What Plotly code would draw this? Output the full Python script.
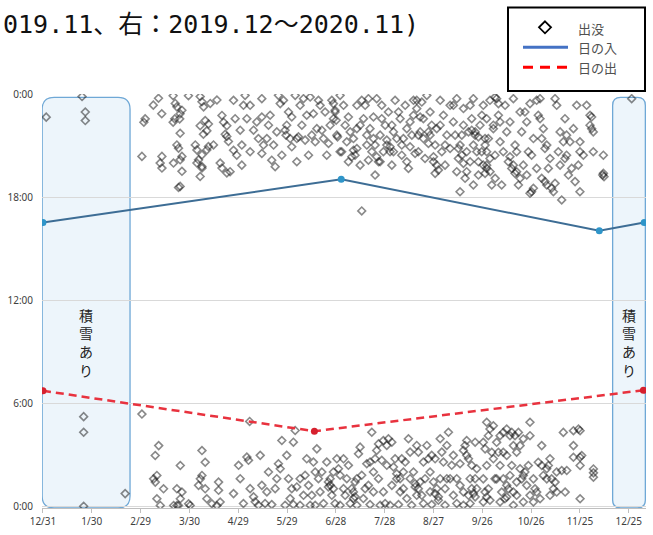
import plotly.graph_objects as go

# ---------------- data ----------------
tick_days = [0, 30, 60, 90, 120, 150, 180, 210, 240, 270, 300, 330, 360]
tick_labels = ["12/31", "1/30", "2/29", "3/30", "4/29", "5/29", "6/28",
               "7/28", "8/27", "9/26", "10/26", "11/25", "12/25"]
hour_ticks = [0, 6, 12, 18, 24]
hour_labels = ["0:00", "6:00", "12:00", "18:00", "0:00"]

# sunset (日の入) and sunrise (日の出): day index from 12/31, time in hours
sunset_day = [0, 183.3, 341.9, 369.5]
sunset_hour = [16.55, 19.07, 16.07, 16.55]
sunrise_day = [0, 166.8, 369.0]
sunrise_hour = [6.74, 4.38, 6.77]

# snow-cover periods (積雪あり)
snow_start = [-0.5, 350.1]
snow_end = [53.5, 370.2]
snow_top = 23.85
snow_bottom = -0.1
snow_radius_px = [12, 8]
snow_label = "積<br>雪<br>あ<br>り"
snow_label_hour = 9.55

# legend entries
legend_names = ["出没", "日の入", "日の出"]

# observations (出没): (day, hour)
evening_obs = [
    (2, 22.7), (24, 23.9), (26, 23.0), (26, 22.5),
    (71, 23.8), (67.8, 23.4), (80, 23.95), (81.3, 23.5), (82.3, 23.3), (85.4, 23.1),
    (84.3, 22.9), (84, 22.6), (81, 22.6), (80, 22.4), (73, 22.9), (62.8, 22.6),
    (62, 22.4), (84.3, 21.76), (89.4, 23.95), (96.6, 23.9), (97.7, 23.6), (98.7, 23.3),
    (102.8, 23.5), (106.9, 23.7), (110, 22.8), (111, 22.4), (113, 22.2), (112, 21.7),
    (96.6, 22.2), (99.7, 22.5), (101.7, 22.3), (100.7, 21.9), (98.6, 21.7), (93.6, 21.08),
    (94.6, 20.79), (97.7, 20.5), (95.6, 20.21), (94.6, 20.02), (97.7, 19.82), (96.6, 19.24),
    (97.7, 19.73), (100.7, 20.79), (101.7, 20.99), (104.8, 21.08), (82.3, 21.08),
    (83.3, 20.89), (85.4, 20.41), (84.3, 20.21), (84.3, 18.66), (83.3, 18.6), (73.1, 20.41),
    (72, 20.02), (73.1, 19.73), (60.8, 20.41), (108.9, 20.02), (110, 19.73), (113, 19.44),
    (80.2, 20.02), (85.4, 19.54), (113, 21.57), (114, 21.28),
    (117.1, 23.68), (118.1, 22.61), (117.1, 20.77), (119.1, 20.48), (121.2, 21.94),
    (122.2, 21.07), (123.2, 23.39), (124.2, 23.97), (122.2, 19.9), (115.0, 19.52),
    (125.3, 22.61), (129.4, 21.94), (134.5, 23.78), (134.5, 22.71), (135.5, 21.07),
    (134.5, 20.58), (137.6, 21.45), (140.6, 20.19), (141.7, 21.07), (144.7, 23.97),
    (145.8, 23.49), (142.7, 19.81), (147.8, 23.68), (149.8, 22.23), (150.9, 23.0),
    (152.9, 20.97), (155.0, 23.97), (156.0, 21.45), (158.0, 23.39), (159.1, 22.23),
    (162.1, 22.81), (163.2, 20.48), (164.2, 23.87), (166.2, 22.9), (167.3, 21.26),
    (169.3, 23.68), (171.4, 21.94), (172.4, 21.45), (174.4, 20.48), (175.5, 21.16),
    (177.5, 23.68), (178.5, 22.61), (179.5, 23.1), (180.6, 21.65), (182.6, 23.97),
    (183.6, 20.68), (184.7, 23.39), (185.7, 22.23), (186.7, 21.26), (189.8, 20.39),
    (190.8, 21.45), (192.9, 20.87), (194.9, 19.9), (195.9, 23.68), (197.0, 22.61),
    (198.0, 23.39), (199.0, 21.07), (201.0, 22.03), (202.1, 20.68), (203.1, 22.71),
    (204.1, 19.32), (205.1, 23.78), (207.2, 21.65), (206.2, 20.1), (210.3, 22.23),
    (211.3, 21.07), (212.3, 23.0), (213.3, 20.68), (214.4, 19.9), (216.4, 23.68),
    (217.4, 21.45), (219.5, 22.61), (220.5, 20.48), (222.6, 23.39), (223.6, 22.03),
    (224.6, 19.71), (225.6, 20.97), (227.7, 22.81), (229.7, 23.68), (230.7, 20.68),
    (231.8, 21.84), (233.8, 22.61), (235.9, 23.97), (236.9, 21.16), (237.9, 23.0),
    (240.0, 20.1), (241.0, 19.42), (242.0, 22.03), (244.1, 23.68), (245.1, 20.68),
    (246.1, 22.81), (248.2, 21.65), (252.2, 22.42), (254.3, 23.78), (255.3, 20.29),
    (256.3, 21.07), (258.4, 23.2), (260.4, 19.52), (261.5, 21.84), (263.5, 22.61),
    (264.5, 23.78), (265.6, 21.65), (266.6, 20.68), (267.6, 20.1), (268.6, 22.23),
    (264.5, 18.74), (256.3, 18.35), (195.9, 17.23),
    (148.8, 21.94), (149.4, 21.65), (157.0, 21.55), (161.1, 21.36), (178.5, 23.49),
    (179.5, 23.0), (180.2, 22.52), (181.0, 21.55), (190.8, 20.77), (191.8, 20.48),
    (203.1, 21.45), (204.1, 21.07), (205.1, 20.39), (207.2, 20.1), (211.3, 21.36),
    (213.3, 20.97), (215.4, 20.68), (227.7, 23.68), (229.7, 23.2), (230.7, 21.65),
    (233.8, 21.45), (236.9, 21.84), (240.0, 20.39), (242.0, 19.9), (243.0, 19.61),
    (255.3, 20.87), (257.4, 20.48), (258.4, 20.0), (260.4, 20.68), (263.5, 21.94),
    (265.6, 21.84), (267.6, 21.55),
    (127.3, 23.39), (131.4, 22.42), (139.6, 22.81), (143.7, 21.84), (152.9, 22.71),
    (160.1, 23.78), (168.3, 22.03), (173.4, 23.0), (187.7, 22.71), (192.9, 22.03),
    (200.0, 23.78), (208.2, 23.39), (214.4, 22.23), (221.5, 21.45), (225.6, 22.42),
    (232.8, 23.58), (238.9, 22.23), (247.1, 21.07), (250.2, 23.39), (253.3, 21.65),
    (258.4, 22.23), (262.5, 23.39), (269.7, 22.81), (272.7, 20.68), (274.8, 19.52),
    (192.9, 23.39), (194.9, 22.23), (199.0, 21.65), (200.0, 20.19), (208.2, 22.61),
    (209.2, 20.68), (215.4, 21.84), (218.5, 23.0), (220.5, 21.07), (223.6, 20.1),
    (226.7, 21.65), (228.7, 20.58), (231.8, 22.71), (234.8, 20.29), (237.9, 21.65),
    (241.0, 21.07), (244.1, 22.23), (247.1, 19.9), (250.2, 20.87), (252.2, 23.39),
    (254.3, 19.52), (257.4, 21.65), (259.4, 19.13), (262.5, 20.1), (264.5, 21.07),
    (267.6, 19.32), (271.7, 21.45), (272.7, 19.9), (276.8, 22.23), (277.9, 19.13),
    (127.3, 20.68), (132.4, 21.45), (138.6, 22.23), (146.8, 20.48), (151.9, 21.45),
    (156.0, 20.1), (165.2, 21.65), (170.3, 23.39), (176.5, 22.23), (182.6, 20.68),
    (187.7, 20.1), (188.8, 21.84),
    (270.6, 23.39), (272.7, 22.61), (271.7, 21.07), (270.6, 19.9), (272.7, 19.71),
    (274.7, 23.68), (276.8, 22.03), (277.8, 20.48), (279.9, 22.81), (278.8, 23.78),
    (280.9, 21.26), (281.9, 18.74), (284.0, 23.39), (285.0, 21.84), (286.0, 20.1),
    (287.0, 22.42), (288.1, 19.71), (289.1, 23.78), (290.1, 21.07), (291.1, 20.68),
    (292.2, 18.74), (293.2, 23.0), (294.2, 21.84), (295.2, 19.9), (297.3, 22.42),
    (298.3, 20.68), (299.3, 23.49), (300.3, 20.48), (300.3, 18.35), (301.4, 21.45),
    (303.4, 23.68), (304.4, 22.81), (305.5, 23.78), (306.5, 21.45), (307.5, 22.03),
    (308.5, 20.87), (309.6, 18.74), (310.6, 19.71), (311.6, 20.29), (313.7, 18.35),
    (314.7, 23.78), (315.7, 23.39), (316.7, 20.68), (317.8, 19.9), (318.8, 17.87),
    (319.8, 21.26), (320.8, 20.29), (321.8, 20.48), (322.9, 19.32), (323.9, 21.26),
    (328.0, 23.39), (329.0, 19.9), (330.0, 21.26), (330.0, 18.35), (334.1, 23.39),
    (336.2, 22.81), (336.2, 22.23), (337.2, 22.03), (338.2, 20.68), (344.4, 20.48),
    (344.4, 19.42), (344.8, 19.23), (361.8, 23.78),
    (269.6, 20.68), (273.7, 21.45), (274.7, 20.29), (271.7, 19.42), (277.8, 23.87),
    (279.9, 23.49), (287.0, 20.39), (289.1, 19.9), (290.1, 19.42), (293.2, 19.13),
    (301.4, 18.55), (299.3, 18.26), (308.5, 18.94), (312.6, 18.55), (314.7, 18.84),
    (337.2, 22.71), (338.2, 21.84), (344.0, 19.32), (280.9, 22.42), (296.2, 23.0),
    (305.5, 22.61), (321.8, 21.65), (324.9, 19.71), (330.0, 20.68),
    (275.8, 18.74), (282.9, 20.68), (291.1, 19.52), (297.3, 19.32), (303.4, 19.71),
    (306.5, 19.13), (309.6, 21.07), (317.8, 21.84), (320.8, 22.61), (326.0, 22.03),
    (327.0, 18.94), (332.1, 20.48),
]

morning_obs = [
    (25, 5.23), (25, 4.32), (50.5, 0.74), (25, 0.0), (60.8, 5.38), (127.0, 4.95),
    (71.1, 3.54), (69.0, 2.96), (70.0, 1.8), (68.0, 1.6), (69.0, 1.41), (74.1, 1.02),
    (70.0, 0.44), (72.1, 0.05), (80.3, 0.05), (82.3, 0.05), (83.3, 0.05), (84.4, 0.44),
    (82.3, 1.02), (85.4, 0.83), (84.4, 2.38), (89.5, 0.15), (90.5, 0.05), (97.7, 3.25),
    (99.7, 2.57), (97.7, 1.8), (96.7, 1.6), (95.6, 1.22), (99.7, 1.02), (100.7, 0.44),
    (103.8, 0.15), (107.9, 1.41), (107.9, 0.93), (108.9, 0.25), (106.9, 0.05),
    (117.1, 0.74), (125.3, 2.87), (126.3, 2.68), (129.4, 0.55), (130.4, 0.26),
    (134.5, 1.22), (136.5, 0.16), (138.6, 2.0), (144.7, 2.48), (145.8, 2.19),
    (146.8, 3.84), (150.9, 1.61), (151.9, 0.45), (153.9, 3.74), (155.0, 4.42),
    (156.0, 1.13), (158.0, 0.06), (161.1, 1.81), (162.1, 2.77), (163.2, 1.22),
    (164.2, 0.06), (166.2, 2.58), (168.3, 3.35), (169.3, 1.61), (170.3, 0.84),
    (174.4, 2.58), (175.4, 1.42), (176.5, 1.22), (177.5, 0.64), (179.5, 0.16),
    (180.6, 2.77), (181.6, 2.19), (182.6, 1.81), (184.7, 2.77), (185.7, 0.64),
    (186.7, 1.61), (189.8, 1.03), (190.8, 0.45), (191.8, 1.42), (193.9, 3.06),
    (194.9, 3.45), (196.9, 0.45), (199.0, 2.48), (200.0, 1.22), (202.1, 4.32),
    (203.1, 2.0), (204.1, 2.77), (205.1, 3.26), (206.2, 3.64), (208.2, 2.68),
    (209.2, 3.84), (211.3, 3.55), (212.3, 3.94), (214.4, 3.74), (216.4, 2.77),
    (217.4, 1.61), (219.5, 0.84), (221.5, 2.0), (222.6, 2.58), (223.6, 0.45),
    (224.6, 3.94), (225.6, 3.16), (227.7, 2.0), (228.7, 1.13), (229.7, 3.55),
    (230.7, 3.16), (231.8, 1.42), (232.8, 0.64), (235.9, 3.55), (236.9, 2.77),
    (237.9, 2.0), (240.0, 1.42), (241.0, 2.77), (242.0, 1.03), (243.0, 0.55),
    (244.1, 3.94), (245.1, 3.16), (246.1, 2.58), (248.2, 3.55), (249.2, 4.32),
    (250.2, 1.61), (252.2, 0.64), (256.3, 2.48), (258.4, 3.26), (260.4, 3.84),
    (261.5, 2.77), (262.5, 1.61), (263.5, 1.03), (264.5, 0.74), (265.6, 3.74),
    (266.6, 2.19),
    (123.2, 0.16), (132.4, 0.06), (140.6, 0.1), (148.8, 0.06), (153.9, 0.1),
    (167.3, 0.06), (172.4, 0.16), (182.6, 0.06), (188.8, 0.16), (192.9, 0.06),
    (201.0, 0.1), (207.2, 0.06), (210.3, 0.16), (213.3, 0.06), (218.5, 0.1),
    (226.6, 0.06), (233.8, 0.16), (238.9, 0.1), (247.1, 0.06), (254.3, 0.16),
    (258.4, 0.06), (262.5, 0.16),
    (175.4, 1.13), (176.5, 1.61), (190.8, 0.84), (191.8, 0.55), (215.4, 2.29),
    (217.4, 1.9), (219.5, 1.61), (228.7, 1.32), (230.7, 1.03), (241.0, 0.74),
    (243.0, 0.35), (259.4, 3.55), (260.4, 2.97), (265.6, 1.61), (266.6, 1.03),
    (265.6, 0.55), (120.2, 2.39), (133.5, 2.97), (142.7, 1.03), (149.8, 2.97),
    (160.1, 0.64), (167.3, 2.0), (178.5, 2.0), (184.7, 1.03), (195.9, 1.81),
    (203.1, 0.84), (211.3, 2.39), (221.5, 1.03), (233.8, 2.58), (237.9, 0.84),
    (248.2, 1.61), (252.2, 2.97), (256.3, 1.22), (261.5, 0.64),
    (121.2, 1.61), (127.3, 1.03), (137.6, 0.84), (143.7, 1.61), (152.9, 1.03),
    (158.0, 1.61), (165.2, 0.64), (171.4, 2.0), (178.5, 1.03), (187.7, 2.39),
    (192.9, 1.61), (198.0, 1.03), (201.0, 2.58), (206.2, 1.61), (209.2, 0.84),
    (214.4, 1.22), (220.5, 2.77), (225.6, 1.61), (229.7, 0.64), (234.8, 1.61),
    (238.9, 2.97), (244.1, 1.61), (247.1, 1.03), (251.2, 2.39), (254.3, 1.61),
    (258.4, 0.84), (263.5, 2.39),
    (272.7, 4.9), (274.7, 4.51), (273.7, 4.12), (276.8, 4.7), (278.8, 3.73),
    (280.9, 4.12), (282.9, 4.31), (285.0, 4.51), (287.0, 4.12), (288.1, 4.31),
    (282.9, 3.15), (285.0, 2.96), (289.1, 3.54), (291.1, 3.15), (293.2, 3.54),
    (295.2, 3.93), (299.3, 4.9), (299.3, 4.12), (270.6, 3.73), (271.7, 3.35),
    (272.7, 2.38), (276.8, 2.77), (280.9, 2.38), (282.9, 1.6), (285.0, 1.22),
    (287.0, 1.8), (289.1, 0.83), (291.1, 1.41), (293.2, 2.19), (295.2, 1.8),
    (297.3, 1.22), (299.3, 0.64), (301.4, 1.6), (303.4, 0.83), (305.5, 0.44),
    (307.5, 1.8), (309.6, 2.19), (311.6, 2.77), (312.6, 1.6), (313.7, 1.02),
    (315.7, 2.0), (270.6, 1.6), (271.7, 0.83), (270.6, 0.25), (274.7, 0.35),
    (280.9, 0.25), (283.9, 0.44), (289.1, 0.06), (295.2, 0.25), (301.4, 0.25),
    (311.6, 0.64), (315.7, 0.83),
    (273.7, 1.02), (272.7, 0.54), (286.0, 1.02), (285.0, 0.54), (294.2, 1.6),
    (296.2, 2.0), (310.6, 2.38), (309.6, 1.6), (277.8, 1.6), (279.9, 3.15),
    (292.2, 4.31), (304.4, 2.57), (306.5, 3.54),
    (278.8, 1.6), (281.9, 0.83), (288.1, 2.38), (291.1, 0.64), (298.3, 2.38),
    (302.4, 1.02), (306.5, 2.38), (314.7, 1.41), (275.8, 3.15), (290.1, 4.12),
    (319.8, 4.31), (326.0, 4.41), (329.1, 4.51), (330.1, 4.41), (326.0, 3.54),
    (326.0, 2.86), (330.1, 2.86), (331.1, 2.96), (330.1, 2.38), (321.9, 2.09),
    (318.8, 2.09), (338.3, 2.18), (338.3, 1.7), (338.3, 1.95), (320.9, 0.83),
    (330.1, 0.44),
]

title_text = "019.11、右：2019.12〜2020.11)"

# ---------------- layout constants ----------------
W, H = 653, 535
ML, MR, MT, MB = 42, 7, 94, 25
X_RANGE = [-0.6, 370.6]
Y_RANGE = [-0.1, 24.05]
plot_w = W - ML - MR
plot_h = H - MT - MB
px_per_day = plot_w / (X_RANGE[1] - X_RANGE[0])
px_per_hour = plot_h / (Y_RANGE[1] - Y_RANGE[0])


def paper_x(px):
    return (px - ML) / plot_w


def paper_y(py):
    return 1 + (MT - py) / plot_h


obs = evening_obs + morning_obs
obs_day = [d for d, h in obs]
obs_hour = [h for d, h in obs]

fig = go.Figure()

# observation scatter
fig.add_trace(go.Scatter(
    x=obs_day, y=obs_hour, mode="markers", showlegend=False, name=legend_names[0],
    marker=dict(symbol="diamond-open", size=6, color="rgba(20,20,20,0.5)",
                line=dict(width=1.6)),
    hoverinfo="skip"))

# sunset line
fig.add_trace(go.Scatter(
    x=sunset_day, y=sunset_hour, mode="lines+markers", showlegend=False,
    name=legend_names[1],
    line=dict(color="#3D6D95", width=2),
    marker=dict(size=7, color="#2F95C9")))

# sunrise line
fig.add_trace(go.Scatter(
    x=sunrise_day, y=sunrise_hour, mode="lines+markers", showlegend=False,
    name=legend_names[2],
    line=dict(color="#E8323E", width=2.5, dash="8px,5px"),
    marker=dict(size=7, color="#D6202E")))

shapes = []
# snow-cover rounded boxes
for x0, x1, rpx in zip(snow_start, snow_end, snow_radius_px):
    rx = rpx / px_per_day
    ry = rpx / px_per_hour
    y0, y1 = snow_bottom, snow_top
    path = (f"M {x0 + rx},{y0} L {x1 - rx},{y0} Q {x1},{y0} {x1},{y0 + ry} "
            f"L {x1},{y1 - ry} Q {x1},{y1} {x1 - rx},{y1} "
            f"L {x0 + rx},{y1} Q {x0},{y1} {x0},{y1 - ry} "
            f"L {x0},{y0 + ry} Q {x0},{y0} {x0 + rx},{y0} Z")
    shapes.append(dict(type="path", path=path, xref="x", yref="y",
                       fillcolor="rgba(214,232,246,0.45)",
                       line=dict(color="#6FA8D6", width=1.3), layer="below"))

# ---- hand-built legend (frame, keys, labels) ----
shapes.append(dict(type="rect", xref="paper", yref="paper",
                   x0=paper_x(508), x1=paper_x(645), y0=paper_y(91), y1=paper_y(7),
                   line=dict(color="black", width=2), fillcolor="white", layer="above"))
# diamond key
cx, cy, r = 545, 27, 6
diamond = (f"M {paper_x(cx)},{paper_y(cy - r)} L {paper_x(cx + r)},{paper_y(cy)} "
           f"L {paper_x(cx)},{paper_y(cy + r)} L {paper_x(cx - r)},{paper_y(cy)} Z")
shapes.append(dict(type="path", path=diamond, xref="paper", yref="paper",
                   line=dict(color="black", width=1.8), layer="above"))
# line keys
shapes.append(dict(type="line", xref="paper", yref="paper",
                   x0=paper_x(523), x1=paper_x(568), y0=paper_y(47), y1=paper_y(47),
                   line=dict(color="#4472C4", width=3), layer="above"))
shapes.append(dict(type="line", xref="paper", yref="paper",
                   x0=paper_x(523), x1=paper_x(568), y0=paper_y(67), y1=paper_y(67),
                   line=dict(color="#FF0000", width=3, dash="10px,7px"), layer="above"))

annotations = []
for name, ly in zip(legend_names, [28, 47, 67]):
    annotations.append(dict(x=paper_x(576), y=paper_y(ly), xref="paper", yref="paper",
                            xanchor="left", yanchor="middle", text=name,
                            showarrow=False,
                            font=dict(family="Noto Sans CJK JP", size=13,
                                      color="#505050")))

for x0, x1 in zip(snow_start, snow_end):
    annotations.append(dict(x=(x0 + x1) / 2, y=snow_label_hour, xref="x", yref="y",
                            text=snow_label, showarrow=False,
                            font=dict(family="Noto Sans CJK JP", size=14, color="#222"),
                            align="center"))
annotations.append(dict(x=paper_x(1), y=paper_y(24), xref="paper", yref="paper",
                        xanchor="left", yanchor="middle", text=title_text,
                        showarrow=False,
                        font=dict(family="DejaVu Sans Mono, Noto Sans CJK JP",
                                  size=25, color="#111")))

fig.update_layout(
    width=W, height=H,
    margin=dict(l=ML, r=MR, t=MT, b=MB),
    paper_bgcolor="white", plot_bgcolor="white",
    showlegend=False,
    shapes=shapes, annotations=annotations,
    xaxis=dict(range=X_RANGE, tickvals=tick_days, ticktext=tick_labels,
               showgrid=False, zeroline=False, showline=True,
               linecolor="#BFBFBF", linewidth=1, ticks="outside", ticklen=4,
               tickcolor="#BFBFBF",
               tickfont=dict(family="Noto Sans", size=10, color="#404040")),
    yaxis=dict(range=Y_RANGE, tickvals=hour_ticks, ticktext=hour_labels,
               showgrid=True, gridcolor="#D9D9D9", gridwidth=1,
               zeroline=False, showline=False, ticks="", ticklabelstandoff=8,
               tickfont=dict(family="Noto Sans", size=10, color="#404040")),
)

fig.write_html("out.html",
               config={"displayModeBar": False},
               post_script="document.body.style.margin='0';"
                           "document.body.style.overflow='hidden';")
